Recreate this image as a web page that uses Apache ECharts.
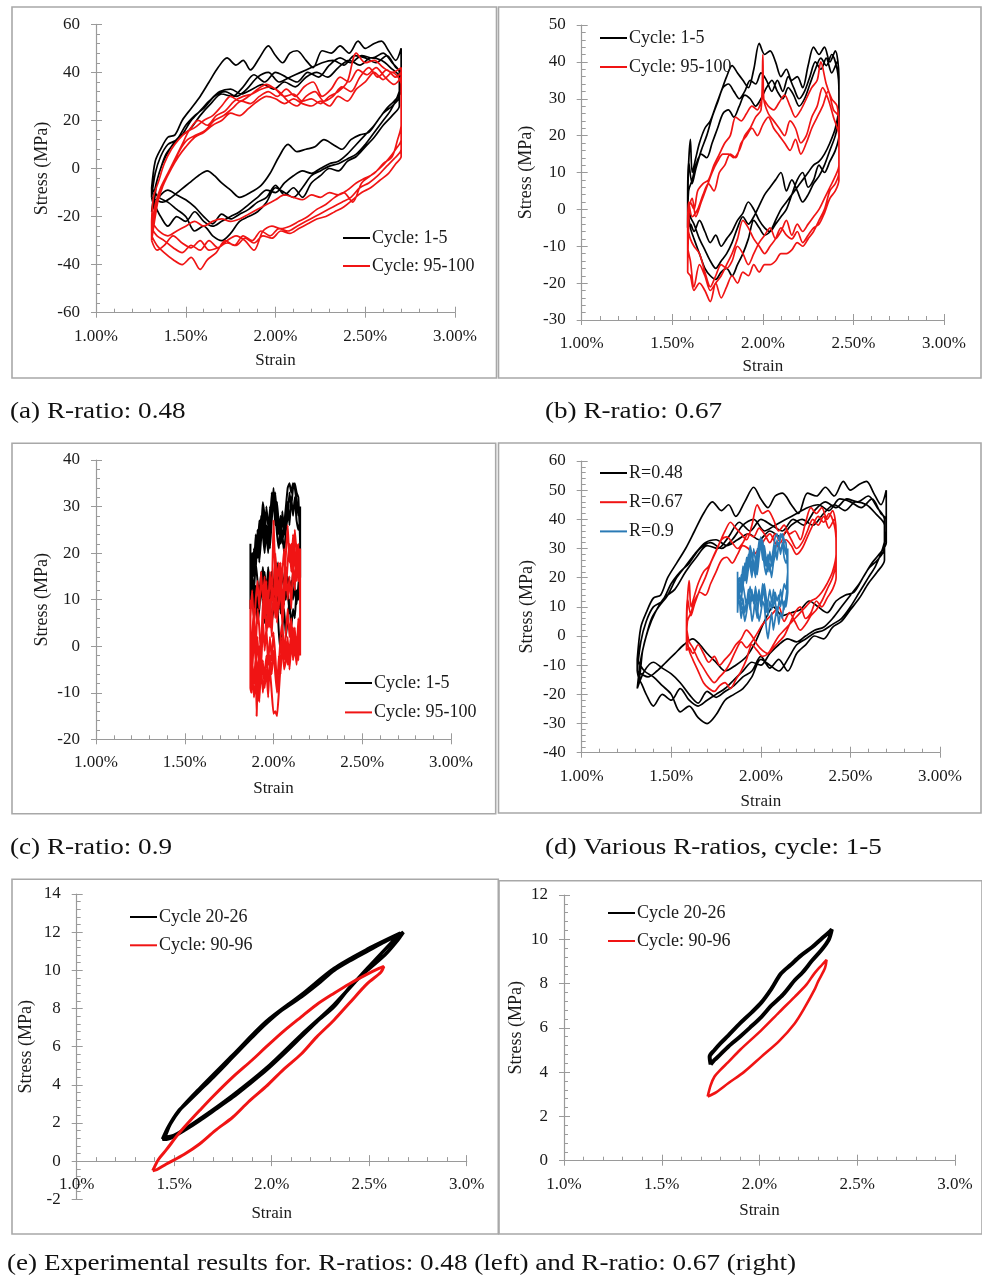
<!DOCTYPE html>
<html>
<head>
<meta charset="utf-8">
<script src="https://cdn.jsdelivr.net/npm/echarts@6/dist/echarts.min.js"></script>
<style>
html,body{margin:0;padding:0;background:#fff;}
#chart{width:982px;height:1279px;}
</style>
</head>
<body>
<div id="chart"></div>
<script>
// ---------------- DATA (strain in %, stress in MPa) ----------------
// (a) R = 0.48, cycles 1-5 (black)
const aBlack1 = [[1.31,-8],[1.33,3],[1.36,8],[1.40,13],[1.44,14],[1.48,20],[1.53,25],[1.58,30],[1.63,36],[1.68,42],[1.73,46],[1.78,43],[1.82,45],[1.86,41],[1.91,46],[1.96,51],[2.00,47],[2.04,44],[2.08,48],[2.12,49],[2.17,45],[2.21,42],[2.26,49],[2.31,48],[2.36,51],[2.41,48],[2.46,53],[2.50,50],[2.55,52],[2.59,53],[2.63,49],[2.67,45],[2.70,50],
  [2.70,36],[2.68,30],[2.64,24],[2.60,20],[2.55,15],[2.50,10],[2.45,6],[2.40,4],[2.35,2],[2.30,1],[2.25,-1],[2.20,-3],[2.15,-8],[2.10,-12],[2.05,-10],[2.00,-8],[1.95,-14],[1.90,-18],[1.85,-20],[1.80,-22],[1.75,-27],[1.70,-30],[1.65,-28],[1.60,-24],[1.55,-26],[1.50,-20],[1.45,-17],[1.40,-14],[1.35,-12],[1.31,-8]];
const aBlack2 = [[1.31,-12],[1.33,-2],[1.36,5],[1.40,10],[1.45,12],[1.50,18],[1.55,22],[1.60,25],[1.66,30],[1.72,32],[1.78,30],[1.84,33],[1.90,38],[1.96,40],[2.02,36],[2.08,38],[2.14,40],[2.20,42],[2.26,44],[2.32,45],[2.38,43],[2.44,47],[2.50,46],[2.56,44],[2.62,47],[2.67,42],[2.70,40],
  [2.70,32],[2.66,28],[2.62,25],[2.57,20],[2.52,15],[2.47,14],[2.42,12],[2.37,8],[2.32,10],[2.27,12],[2.22,9],[2.17,8],[2.12,7],[2.07,10],[2.02,5],[1.97,-2],[1.92,-7],[1.86,-10],[1.80,-12],[1.75,-9],[1.70,-6],[1.66,-3],[1.62,-1],[1.57,-3],[1.52,-6],[1.47,-9],[1.42,-12],[1.37,-14],[1.31,-12]];
const aBlack3 = [[1.32,-15],[1.34,-5],[1.37,2],[1.41,8],[1.46,13],[1.52,16],[1.58,22],[1.64,27],[1.70,31],[1.76,30],[1.82,34],[1.88,39],[1.94,36],[2.00,40],[2.06,38],[2.12,36],[2.18,40],[2.24,38],[2.30,43],[2.36,46],[2.42,44],[2.48,47],[2.54,46],[2.60,48],[2.65,44],[2.69,40],
  [2.69,30],[2.65,26],[2.60,23],[2.55,18],[2.50,14],[2.45,10],[2.40,6],[2.35,3],[2.30,2],[2.25,0],[2.20,-2],[2.15,-1],[2.10,-3],[2.05,-6],[2.00,-10],[1.95,-9],[1.90,-12],[1.85,-15],[1.80,-18],[1.75,-20],[1.70,-22],[1.65,-24],[1.60,-22],[1.55,-18],[1.50,-22],[1.45,-20],[1.40,-24],[1.36,-20],[1.32,-15]];
const aBlack4 = [[1.31,-18],[1.33,-8],[1.36,0],[1.39,6],[1.43,10],[1.48,14],[1.53,20],[1.58,24],[1.63,28],[1.69,32],[1.75,33],[1.81,31],[1.87,33],[1.93,35],[1.99,33],[2.05,36],[2.11,34],[2.17,38],[2.23,40],[2.29,38],[2.35,42],[2.41,45],[2.47,43],[2.53,46],[2.59,45],[2.64,42],[2.69,38],
  [2.69,26],[2.65,22],[2.60,18],[2.55,13],[2.50,9],[2.45,5],[2.40,3],[2.35,-1],[2.30,0],[2.25,-3],[2.20,-6],[2.15,-12],[2.10,-8],[2.05,-11],[2.00,-7],[1.95,-12],[1.90,-14],[1.85,-17],[1.80,-19],[1.75,-21],[1.70,-19],[1.65,-23],[1.60,-20],[1.55,-16],[1.50,-13],[1.45,-11],[1.40,-9],[1.35,-12],[1.31,-18]];
// (a) R = 0.48, cycles 95-100 (red)
const aRed1 = [[1.31,-22],[1.32,-12],[1.35,-5],[1.38,2],[1.42,8],[1.46,12],[1.50,15],[1.55,17],[1.60,20],[1.65,22],[1.70,26],[1.75,30],[1.80,28],[1.85,30],[1.90,33],[1.95,35],[2.00,33],[2.05,30],[2.10,31],[2.15,28],[2.20,29],[2.25,27],[2.30,30],[2.35,32],[2.40,36],[2.45,48],[2.50,44],[2.55,45],[2.60,42],[2.65,40],[2.70,42],
  [2.70,18],[2.68,12],[2.65,5],[2.60,2],[2.55,-2],[2.50,-4],[2.45,-6],[2.40,-9],[2.35,-11],[2.30,-10],[2.25,-12],[2.20,-11],[2.15,-13],[2.10,-12],[2.05,-11],[2.00,-13],[1.95,-15],[1.90,-17],[1.85,-19],[1.80,-21],[1.75,-22],[1.70,-21],[1.65,-22],[1.60,-24],[1.55,-22],[1.50,-24],[1.45,-26],[1.40,-28],[1.35,-26],[1.31,-22]];
const aRed2 = [[1.31,-25],[1.33,-15],[1.36,-8],[1.40,-2],[1.44,4],[1.48,10],[1.52,16],[1.57,20],[1.62,18],[1.67,22],[1.72,24],[1.77,28],[1.82,30],[1.87,31],[1.92,33],[1.97,34],[2.02,32],[2.07,28],[2.12,26],[2.17,30],[2.22,32],[2.27,28],[2.32,30],[2.37,34],[2.42,32],[2.47,38],[2.52,42],[2.57,38],[2.62,41],[2.67,38],[2.70,40],
  [2.70,12],[2.67,8],[2.63,4],[2.58,0],[2.53,-3],[2.48,-6],[2.43,-14],[2.38,-10],[2.33,-12],[2.28,-15],[2.23,-17],[2.18,-20],[2.13,-22],[2.08,-24],[2.03,-25],[1.98,-24],[1.93,-26],[1.88,-34],[1.83,-30],[1.78,-28],[1.73,-30],[1.68,-33],[1.63,-30],[1.58,-34],[1.53,-32],[1.48,-35],[1.43,-33],[1.38,-30],[1.34,-28],[1.31,-25]];
const aRed3 = [[1.31,-28],[1.33,-18],[1.36,-10],[1.39,-4],[1.43,2],[1.47,8],[1.51,12],[1.56,14],[1.61,16],[1.66,20],[1.71,22],[1.76,25],[1.81,28],[1.86,27],[1.91,30],[1.96,32],[2.01,30],[2.06,33],[2.11,30],[2.16,34],[2.21,36],[2.26,30],[2.31,33],[2.36,38],[2.41,36],[2.46,41],[2.51,39],[2.56,42],[2.61,38],[2.66,35],[2.70,38],
  [2.70,8],[2.66,4],[2.62,1],[2.57,-3],[2.52,-6],[2.47,-8],[2.42,-12],[2.37,-14],[2.32,-16],[2.27,-18],[2.22,-20],[2.17,-22],[2.12,-24],[2.07,-26],[2.02,-25],[1.97,-28],[1.92,-26],[1.87,-30],[1.82,-28],[1.77,-32],[1.72,-30],[1.67,-35],[1.62,-38],[1.58,-42],[1.53,-37],[1.48,-40],[1.43,-38],[1.38,-35],[1.34,-32],[1.31,-28]];
const aRed4 = [[1.31,-30],[1.33,-20],[1.35,-12],[1.38,-6],[1.42,0],[1.46,5],[1.50,9],[1.55,13],[1.60,15],[1.65,18],[1.70,20],[1.75,23],[1.80,22],[1.85,25],[1.90,28],[1.95,30],[2.00,29],[2.05,27],[2.10,29],[2.15,27],[2.20,26],[2.25,28],[2.30,26],[2.35,30],[2.40,28],[2.45,33],[2.50,36],[2.55,40],[2.60,37],[2.65,40],[2.70,35],
  [2.70,5],[2.67,2],[2.63,-2],[2.58,-5],[2.53,-8],[2.48,-10],[2.43,-13],[2.38,-16],[2.33,-18],[2.28,-20],[2.23,-21],[2.18,-23],[2.13,-25],[2.08,-27],[2.03,-26],[1.98,-29],[1.93,-28],[1.88,-31],[1.83,-29],[1.78,-32],[1.73,-31],[1.68,-33],[1.63,-34],[1.58,-30],[1.53,-33],[1.48,-31],[1.43,-28],[1.38,-32],[1.34,-34],[1.31,-30]];

// (b) R = 0.67, cycles 1-5 (black)
const bBlack1 = [[1.585,0],[1.59,12],[1.60,19],[1.61,10],[1.63,14],[1.65,18],[1.68,22],[1.71,24],[1.74,28],[1.77,32],[1.80,36],[1.83,39],[1.86,37],[1.89,35],[1.92,33],[1.95,38],[1.98,45],[2.01,42],[2.04,43],[2.07,40],[2.10,36],[2.13,38],[2.16,35],[2.19,36],[2.22,33],[2.25,39],[2.28,44],[2.31,42],[2.34,44],[2.37,40],[2.40,43],[2.42,36],
  [2.42,28],[2.40,22],[2.37,18],[2.34,15],[2.31,13],[2.28,12],[2.25,10],[2.22,8],[2.19,6],[2.16,4],[2.13,2],[2.10,0],[2.07,-3],[2.04,-6],[2.01,-7],[1.98,-5],[1.95,-3],[1.92,-8],[1.89,-12],[1.86,-15],[1.83,-18],[1.80,-16],[1.77,-17],[1.74,-19],[1.71,-18],[1.68,-16],[1.65,-12],[1.62,-8],[1.60,-5],[1.585,0]];
const bBlack2 = [[1.585,-5],[1.59,5],[1.61,8],[1.63,12],[1.66,15],[1.69,14],[1.72,18],[1.75,22],[1.78,26],[1.81,27],[1.84,25],[1.87,28],[1.90,31],[1.93,30],[1.96,28],[1.99,30],[2.02,33],[2.05,35],[2.08,32],[2.11,30],[2.14,33],[2.17,31],[2.20,28],[2.23,30],[2.26,34],[2.29,38],[2.32,41],[2.35,39],[2.38,42],[2.41,38],[2.42,32],
  [2.42,20],[2.40,16],[2.37,13],[2.34,10],[2.31,12],[2.28,8],[2.25,6],[2.22,10],[2.19,8],[2.16,4],[2.13,0],[2.10,-2],[2.07,-4],[2.04,-6],[2.01,-5],[1.98,-3],[1.95,0],[1.92,2],[1.89,-1],[1.86,-3],[1.83,-6],[1.80,-8],[1.77,-10],[1.74,-7],[1.71,-9],[1.68,-6],[1.65,-3],[1.62,-6],[1.60,-4],[1.585,-5]];
const bBlack3 = [[1.585,3],[1.59,13],[1.61,7],[1.63,11],[1.66,16],[1.69,20],[1.72,25],[1.75,29],[1.78,33],[1.81,34],[1.84,32],[1.87,30],[1.90,32],[1.93,35],[1.96,34],[1.99,37],[2.02,35],[2.05,32],[2.08,35],[2.11,32],[2.14,36],[2.17,33],[2.20,30],[2.23,32],[2.26,36],[2.29,40],[2.32,38],[2.35,41],[2.38,37],[2.41,40],[2.42,30],
  [2.42,25],[2.40,20],[2.37,16],[2.34,12],[2.31,9],[2.28,7],[2.25,4],[2.22,2],[2.19,5],[2.16,8],[2.13,5],[2.10,10],[2.07,8],[2.04,6],[2.01,4],[1.98,1],[1.95,-2],[1.92,-4],[1.89,-2],[1.86,-5],[1.83,-9],[1.80,-12],[1.77,-14],[1.74,-16],[1.71,-14],[1.68,-11],[1.65,-8],[1.62,-4],[1.60,-2],[1.585,3]];
// (b) R = 0.67, cycles 95-100 (red)
const bRed1 = [[1.585,-17],[1.59,-5],[1.60,2],[1.62,0],[1.64,5],[1.67,7],[1.70,8],[1.73,12],[1.76,15],[1.79,18],[1.82,20],[1.85,25],[1.88,24],[1.91,26],[1.94,28],[1.97,27],[2.00,30],[2.03,28],[2.06,27],[2.09,29],[2.12,31],[2.15,28],[2.18,25],[2.21,27],[2.24,30],[2.27,33],[2.30,35],[2.32,40],[2.35,34],[2.38,30],[2.41,28],[2.42,22],
  [2.42,10],[2.40,7],[2.37,5],[2.34,0],[2.31,-3],[2.28,-6],[2.25,-8],[2.22,-10],[2.19,-9],[2.16,-11],[2.13,-12],[2.10,-12],[2.07,-14],[2.04,-15],[2.01,-15],[1.98,-17],[1.95,-15],[1.92,-18],[1.89,-17],[1.86,-20],[1.83,-18],[1.80,-21],[1.77,-24],[1.74,-20],[1.71,-25],[1.68,-22],[1.65,-20],[1.62,-22],[1.60,-18],[1.585,-17]];
const bRed2 = [[1.585,-10],[1.59,0],[1.61,3],[1.63,-2],[1.66,2],[1.69,6],[1.72,10],[1.75,13],[1.78,15],[1.81,15],[1.84,14],[1.87,16],[1.90,20],[1.93,22],[1.96,25],[1.99,27],[2.00,42],[2.005,30],[2.03,26],[2.06,24],[2.09,22],[2.12,20],[2.15,24],[2.18,22],[2.21,18],[2.24,20],[2.27,25],[2.30,28],[2.33,33],[2.36,30],[2.39,25],[2.42,20],
  [2.42,8],[2.40,5],[2.37,3],[2.34,-1],[2.31,-4],[2.28,-5],[2.25,-7],[2.22,-9],[2.19,-6],[2.16,-8],[2.13,-7],[2.10,-5],[2.07,-8],[2.04,-10],[2.01,-12],[1.98,-10],[1.95,-8],[1.92,-5],[1.89,-3],[1.86,-8],[1.83,-12],[1.80,-15],[1.77,-18],[1.74,-20],[1.71,-22],[1.68,-18],[1.65,-15],[1.62,-21],[1.60,-14],[1.585,-10]];
const bRed3 = [[1.585,-5],[1.59,2],[1.61,-2],[1.64,0],[1.67,4],[1.70,7],[1.73,5],[1.76,10],[1.79,12],[1.82,15],[1.85,14],[1.88,18],[1.91,20],[1.94,22],[1.97,20],[2.00,23],[2.03,25],[2.06,22],[2.09,20],[2.12,18],[2.15,16],[2.18,19],[2.21,15],[2.24,18],[2.27,22],[2.30,25],[2.33,28],[2.36,32],[2.39,27],[2.42,25],
  [2.42,12],[2.40,9],[2.37,6],[2.34,3],[2.31,0],[2.28,-2],[2.25,-4],[2.22,-6],[2.19,-4],[2.16,-7],[2.13,-3],[2.10,-6],[2.07,-8],[2.04,-5],[2.01,-7],[1.98,-9],[1.95,-12],[1.92,-15],[1.89,-12],[1.86,-10],[1.83,-14],[1.80,-16],[1.77,-15],[1.74,-18],[1.71,-21],[1.68,-17],[1.65,-12],[1.62,-10],[1.60,-8],[1.585,-5]];

// (c) R = 0.9, cycles 1-5 (black)
const cBlack1 = [[1.87,22],[1.87,8],[1.88,18],[1.89,15],[1.90,22],[1.91,20],[1.92,27],[1.93,25],[1.94,31],[1.95,28],[1.96,24],[1.97,20],[1.98,26],[1.99,33],[2.00,30],[2.01,33],[2.02,27],[2.03,24],[2.04,28],[2.05,22],[2.06,26],[2.07,30],[2.08,34],[2.09,35],[2.10,33],[2.11,35],[2.12,34],[2.13,31],[2.14,28],[2.15,30],
  [2.15,15],[2.14,10],[2.13,12],[2.12,6],[2.11,8],[2.10,4],[2.09,10],[2.08,6],[2.07,2],[2.06,8],[2.05,4],[2.04,-1],[2.03,3],[2.02,10],[2.01,12],[2.00,8],[1.99,5],[1.98,10],[1.97,14],[1.96,8],[1.95,5],[1.94,12],[1.93,16],[1.92,10],[1.91,14],[1.90,18],[1.89,12],[1.88,15],[1.87,10]];
const cBlack2 = [[1.87,15],[1.88,20],[1.89,17],[1.90,24],[1.91,19],[1.92,22],[1.93,28],[1.94,24],[1.95,20],[1.96,26],[1.97,22],[1.98,30],[1.99,28],[2.00,34],[2.01,29],[2.02,24],[2.03,21],[2.04,26],[2.05,24],[2.06,20],[2.07,25],[2.08,28],[2.09,33],[2.10,30],[2.11,34],[2.12,35],[2.13,33],[2.14,32],[2.15,22],
  [2.14,16],[2.13,18],[2.12,14],[2.11,10],[2.10,14],[2.09,12],[2.08,15],[2.07,10],[2.06,12],[2.05,16],[2.04,12],[2.03,8],[2.02,14],[2.01,18],[2.00,12],[1.99,15],[1.98,6],[1.97,10],[1.96,14],[1.95,12],[1.94,17],[1.93,13],[1.92,8],[1.91,5],[1.90,10],[1.89,6],[1.88,12],[1.87,12]];
const cBlack3 = [[1.87,20],[1.88,14],[1.89,21],[1.90,16],[1.91,25],[1.92,18],[1.93,23],[1.94,29],[1.95,22],[1.96,30],[1.97,26],[1.98,21],[1.99,27],[2.00,32],[2.01,26],[2.02,31],[2.03,26],[2.04,22],[2.05,29],[2.06,24],[2.07,28],[2.08,31],[2.09,26],[2.10,32],[2.11,28],[2.12,32],[2.13,27],[2.14,25],[2.15,27],
  [2.15,18],[2.14,13],[2.13,9],[2.12,12],[2.11,16],[2.10,11],[2.09,7],[2.08,12],[2.07,16],[2.06,9],[2.05,12],[2.04,7],[2.03,13],[2.02,18],[2.01,14],[2.00,10],[1.99,16],[1.98,12],[1.97,17],[1.96,11],[1.95,16],[1.94,9],[1.93,14],[1.92,12],[1.91,8],[1.90,13],[1.89,9],[1.88,16],[1.87,14]];
// (c) R = 0.9, cycles 95-100 (red)
const cRed1 = [[1.87,10],[1.87,-9],[1.875,-10],[1.88,2],[1.89,8],[1.90,-3],[1.905,-15],[1.91,-8],[1.92,0],[1.93,-5],[1.94,5],[1.95,12],[1.96,2],[1.97,8],[1.98,16],[1.99,10],[2.00,27],[2.01,15],[2.02,5],[2.03,12],[2.04,18],[2.05,8],[2.06,14],[2.07,20],[2.08,26],[2.09,18],[2.10,22],[2.11,15],[2.12,25],[2.13,20],[2.14,18],[2.15,21],
  [2.15,5],[2.14,-3],[2.13,2],[2.12,-2],[2.11,4],[2.10,0],[2.09,-5],[2.08,2],[2.07,-3],[2.06,-5],[2.05,0],[2.04,-4],[2.03,-10],[2.02,-15],[2.01,-14],[2.00,-14.5],[1.99,-10],[1.98,-5],[1.97,-8],[1.96,-2],[1.95,-6],[1.94,-10],[1.93,-4],[1.92,-12],[1.91,-6],[1.90,-2],[1.89,-8],[1.88,-3],[1.87,-5]];
const cRed2 = [[1.87,6],[1.88,12],[1.89,4],[1.90,10],[1.91,14],[1.92,8],[1.93,16],[1.94,10],[1.95,15],[1.96,7],[1.97,12],[1.98,4],[1.99,14],[2.00,8],[2.01,20],[2.02,14],[2.03,18],[2.04,10],[2.05,16],[2.06,21],[2.07,12],[2.08,18],[2.09,22],[2.10,16],[2.11,24],[2.12,19],[2.13,14],[2.14,22],[2.15,10],
  [2.15,0],[2.14,6],[2.13,-2],[2.12,4],[2.11,-1],[2.10,6],[2.09,2],[2.08,8],[2.07,3],[2.06,-2],[2.05,5],[2.04,2],[2.03,-4],[2.02,-8],[2.01,-2],[2.00,3],[1.99,-3],[1.98,2],[1.97,-4],[1.96,4],[1.95,-1],[1.94,6],[1.93,0],[1.92,-6],[1.91,2],[1.90,-4],[1.89,3],[1.88,-6],[1.87,0]];
const cRed3 = [[1.87,2],[1.88,-4],[1.89,6],[1.90,0],[1.91,8],[1.92,4],[1.93,-2],[1.94,10],[1.95,6],[1.96,14],[1.97,4],[1.98,10],[1.99,2],[2.00,12],[2.01,6],[2.02,16],[2.03,8],[2.04,14],[2.05,4],[2.06,10],[2.07,17],[2.08,10],[2.09,15],[2.10,8],[2.11,18],[2.12,12],[2.13,22],[2.14,14],[2.15,16],
  [2.15,-2],[2.14,2],[2.13,-4],[2.12,0],[2.11,-3],[2.10,3],[2.09,-1],[2.08,-4],[2.07,1],[2.06,-3],[2.05,2],[2.04,-6],[2.03,-2],[2.02,-10],[2.01,-6],[2.00,-1],[1.99,-6],[1.98,-2],[1.97,-11],[1.96,-5],[1.95,-9],[1.94,-3],[1.93,-8],[1.92,-3],[1.91,-12],[1.90,-7],[1.89,-11],[1.88,-6],[1.87,-2]];

// (e) left: R = 0.48 ; right: R = 0.67
const eLBlack = [[1.44,1.15],[1.47,1.8],[1.52,2.6],[1.58,3.2],[1.63,3.7],[1.70,4.4],[1.80,5.45],[1.90,6.5],[1.97,7.2],[2.05,7.9],[2.15,8.6],[2.25,9.4],[2.32,10.0],[2.40,10.5],[2.49,11.0],[2.58,11.5],[2.65,11.85],[2.675,12.0],[2.64,11.5],[2.58,10.8],[2.49,10.0],[2.40,9.1],[2.32,8.1],[2.23,7.3],[2.15,6.5],[2.06,5.6],[1.97,4.75],[1.88,4.0],[1.80,3.35],[1.71,2.7],[1.63,2.13],[1.55,1.6],[1.50,1.3],[1.46,1.15],[1.44,1.15],
  [1.45,1.25],[1.48,1.95],[1.53,2.7],[1.63,3.8],[1.80,5.55],[1.97,7.3],[2.15,8.7],[2.32,10.1],[2.49,11.1],[2.66,11.95],[2.49,10.1],[2.32,8.2],[2.15,6.6],[1.97,4.85],[1.80,3.45],[1.63,2.2],[1.50,1.35],[1.45,1.25]];
const eLRed = [[1.39,-0.5],[1.42,0.1],[1.46,0.6],[1.52,1.4],[1.58,2.1],[1.63,2.65],[1.70,3.4],[1.80,4.4],[1.90,5.3],[1.97,5.97],[2.06,6.8],[2.15,7.55],[2.23,8.2],[2.32,8.8],[2.40,9.3],[2.49,9.8],[2.55,10.1],[2.575,10.2],[2.56,9.9],[2.49,9.3],[2.40,8.3],[2.32,7.4],[2.23,6.5],[2.15,5.6],[2.06,4.8],[1.97,3.9],[1.88,3.1],[1.80,2.3],[1.71,1.6],[1.63,0.9],[1.55,0.35],[1.46,-0.15],[1.41,-0.45],[1.39,-0.5]];
const eRBlack = [[1.75,4.35],[1.745,4.7],[1.77,5.0],[1.80,5.3],[1.84,5.65],[1.90,6.2],[1.96,6.7],[2.01,7.15],[2.06,7.75],[2.11,8.45],[2.16,8.85],[2.21,9.25],[2.27,9.65],[2.32,10.05],[2.36,10.35],[2.37,10.45],[2.355,10.0],[2.32,9.55],[2.27,9.05],[2.22,8.5],[2.18,8.15],[2.12,7.5],[2.06,7.0],[2.01,6.5],[1.95,6.0],[1.90,5.6],[1.84,5.15],[1.80,4.8],[1.77,4.55],[1.75,4.35]];
const eRRed = [[1.735,2.9],[1.75,3.4],[1.77,3.8],[1.80,4.1],[1.84,4.45],[1.90,5.0],[2.01,5.9],[2.10,6.7],[2.18,7.4],[2.24,7.95],[2.28,8.45],[2.32,8.85],[2.343,9.07],[2.335,8.7],[2.30,8.1],[2.28,7.7],[2.23,6.9],[2.18,6.2],[2.10,5.4],[2.01,4.7],[1.92,4.0],[1.84,3.5],[1.78,3.1],[1.735,2.9]];

const captions = ['(a) R-ratio: 0.48','(b) R-ratio: 0.67','(c) R-ratio: 0.9','(d) Various R-ratios, cycle: 1-5','(e) Experimental results for. R-ratios: 0.48 (left) and R-ratio: 0.67 (right)'];

// ---------------- CHART ----------------
const SERIF = "'Liberation Serif','Times New Roman',serif";
const TXT = '#1a1a1a', AX = '#9a9a9a';
const BLACK = '#000000', RED = '#f01414', BLUE = '#2a7ab5';

const grids = [
  {left:96, top:24.3, width:359, height:288.4},
  {left:581.7, top:25, width:362.3, height:295},
  {left:96, top:460, width:355, height:279.3},
  {left:581.7, top:461, width:358.3, height:291.7},
  {left:76.7, top:894, width:390, height:305.3},
  {left:564, top:895, width:391, height:265.7}
];
const axCfg = [
  {ymin:-60, ymax:60, yint:20, dec:2, onZero:false, xGap:39, xMargin:15, yGap:45},
  {ymin:-30, ymax:50, yint:10, dec:2, onZero:false, xGap:38, xMargin:15, yGap:46},
  {ymin:-20, ymax:40, yint:10, dec:2, onZero:false, xGap:41, xMargin:15, yGap:45},
  {ymin:-40, ymax:60, yint:10, dec:2, onZero:false, xGap:40, xMargin:15, yGap:45},
  {ymin:-2, ymax:14, yint:2, dec:1, onZero:true, xGap:6, xMargin:-23, yGap:41},
  {ymin:0, ymax:12, yint:2, dec:1, onZero:false, xGap:41, xMargin:15, yGap:39}
];
const tickCommon = {
  axisTick:{inside:true, length:6, lineStyle:{color:AX}},
  minorTick:{show:true, splitNumber:5, length:4, lineStyle:{color:AX}},
  splitLine:{show:false}
};
const xAxes = axCfg.map((c,i)=>Object.assign({
  type:'value', gridIndex:i, min:1, max:3, interval:0.5, position:'bottom',
  name:'Strain', nameLocation:'middle', nameGap:c.xGap,
  nameTextStyle:{fontFamily:SERIF, fontSize:17, color:TXT},
  axisLine:{onZero:c.onZero, lineStyle:{color:AX, width:1.2}},
  axisLabel:{formatter:v=>v.toFixed(c.dec)+'%', fontFamily:SERIF, fontSize:17, color:TXT, margin:c.xMargin}
}, tickCommon));
const yAxes = axCfg.map((c,i)=>Object.assign({
  type:'value', gridIndex:i, min:c.ymin, max:c.ymax, interval:c.yint, position:'left',
  name:'Stress (MPa)', nameLocation:'middle', nameGap:c.yGap,
  nameTextStyle:{fontFamily:SERIF, fontSize:18, color:TXT},
  axisLine:{show:true, onZero:false, lineStyle:{color:AX, width:1.2}},
  axisLabel:{fontFamily:SERIF, fontSize:17, color:TXT, margin:16}
}, tickCommon));
// second, label-free axes that draw the outer half of the crossing major ticks
const xAxesOut = axCfg.map((c,i)=>({
  type:'value', gridIndex:i, min:1, max:3, interval:0.5, position:'bottom',
  axisLine:{show:false, onZero:c.onZero}, axisLabel:{show:false}, splitLine:{show:false},
  axisTick:{show:true, inside:false, length:5, lineStyle:{color:AX}}, minorTick:{show:false}
}));
const yAxesOut = axCfg.map((c,i)=>({
  type:'value', gridIndex:i, min:c.ymin, max:c.ymax, interval:c.yint, position:'left',
  axisLine:{show:false, onZero:false}, axisLabel:{show:false}, splitLine:{show:false},
  axisTick:{show:true, inside:false, length:5, lineStyle:{color:AX}}, minorTick:{show:false}
}));

function ser(name, idx, loops, color, width, smooth){
  return {type:'line', name, xAxisIndex:idx, yAxisIndex:idx, data:[].concat(...loops),
    symbol:'none', smooth:smooth, lineStyle:{color, width}, itemStyle:{color},
    animation:false, silent:true};
}
const series = [
  ser('Cycle: 1-5', 0, [aBlack1,aBlack2,aBlack3,aBlack4], BLACK, 1.7, 0.3),
  ser('Cycle: 95-100', 0, [aRed1,aRed2,aRed3,aRed4], RED, 1.7, 0.3),
  ser('Cycle: 1-5', 1, [bBlack1,bBlack2,bBlack3], BLACK, 1.7, 0.3),
  ser('Cycle: 95-100', 1, [bRed1,bRed2,bRed3], RED, 1.7, 0.3),
  ser('Cycle: 1-5', 2, [cBlack1,cBlack2,cBlack3], BLACK, 2, 0.1),
  ser('Cycle: 95-100', 2, [cRed1,cRed2,cRed3], RED, 2, 0.1),
  ser('R=0.48', 3, [aBlack1,aBlack2,aBlack3,aBlack4], BLACK, 1.7, 0.3),
  ser('R=0.67', 3, [bBlack1,bBlack2,bBlack3], RED, 1.7, 0.3),
  ser('R=0.9', 3, [cBlack1,cBlack2,cBlack3], BLUE, 1.7, 0.1),
  ser('Cycle 20-26', 4, [eLBlack], BLACK, 3.5, 0.3),
  ser('Cycle: 90-96', 4, [eLRed], RED, 3, 0.3),
  ser('Cycle 20-26', 5, [eRBlack], BLACK, 4, 0.3),
  ser('Cycle: 90-96', 5, [eRRed], RED, 2.6, 0.3)
];

function leg(names, left, top, gap){
  return {data:names, left, top, orient:'vertical', icon:'rect', itemWidth:27, itemHeight:2,
    itemGap:gap, padding:0, selectedMode:false,
    textStyle:{fontFamily:SERIF, fontSize:18, color:TXT, lineHeight:18, padding:[0,0,0,-3]}};
}
const legends = [
  leg(['Cycle: 1-5','Cycle: 95-100'], 343, 229, 10),
  leg(['Cycle: 1-5','Cycle: 95-100'], 600, 29, 11),
  leg(['Cycle: 1-5','Cycle: 95-100'], 345, 674, 11.4),
  leg(['R=0.48','R=0.67','R=0.9'], 600, 464, 11.2),
  leg(['Cycle 20-26','Cycle: 90-96'], 130, 908, 10.3),
  leg(['Cycle 20-26','Cycle: 90-96'], 608, 904, 10)
];

const capPos = [[10,411.5],[545,411.5],[10,848],[545,848],[7,1264]];
const capText = captions.map((t,i)=>({type:'text', x:capPos[i][0], y:capPos[i][1], scaleX:1.18, silent:true,
  style:{text:t, fontFamily:SERIF, fontSize:23, fill:'#111', align:'left', verticalAlign:'middle'}}));

const boxes = [[12,7,484.5,371],[498.5,7,482.5,371],[12,443.3,483.7,370.5],[498.5,443,482.5,370],[12,879.3,486.3,354.7],[499,880.7,483,353.3]];
const boxRects = boxes.map(b=>({type:'rect', silent:true, shape:{x:b[0], y:b[1], width:b[2], height:b[3]},
  style:{fill:'none', stroke:'#a8a8a8', lineWidth:1.6}}));

const chart = echarts.init(document.getElementById('chart'), null, {renderer:'canvas'});
chart.setOption({
  backgroundColor:'#ffffff',
  animation:false,
  legend:legends,
  grid:grids,
  xAxis:xAxes.concat(xAxesOut),
  yAxis:yAxes.concat(yAxesOut),
  series:series,
  graphic:boxRects.concat(capText)
});
</script>
</body>
</html>
